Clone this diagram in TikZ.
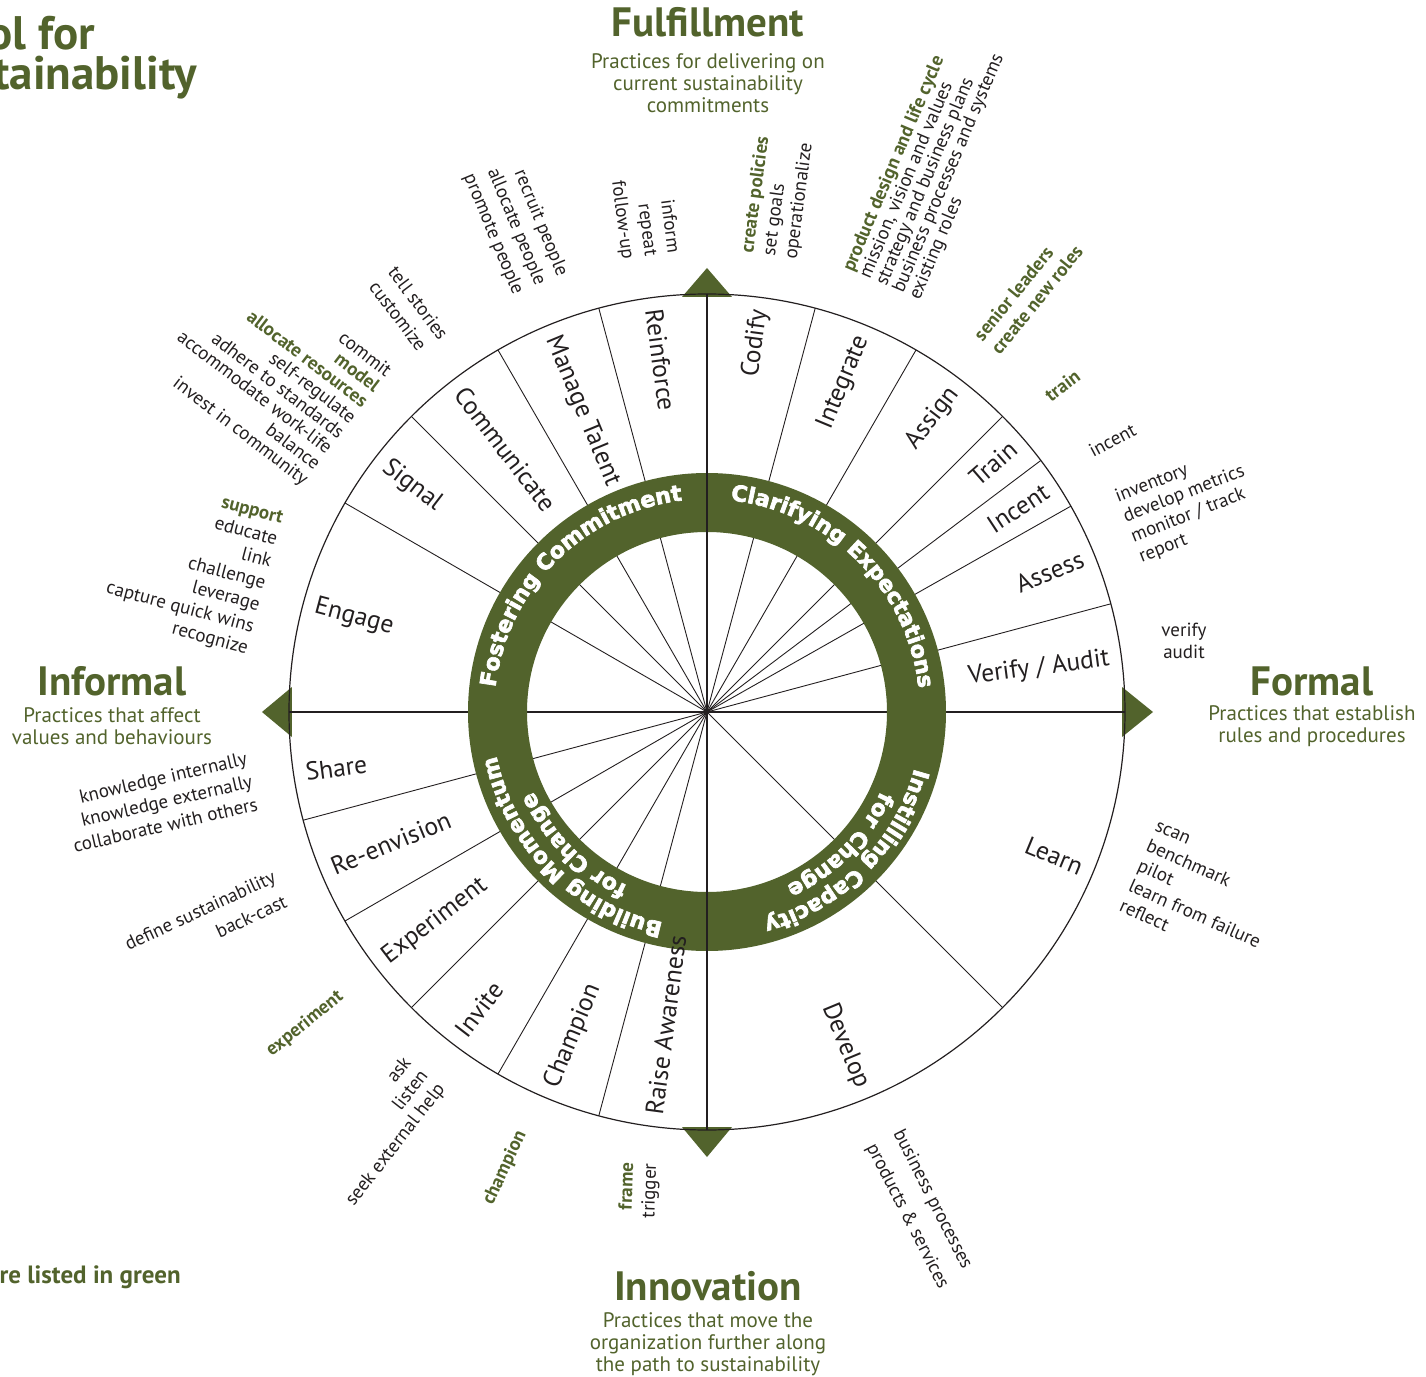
\documentclass[tikz,border=0pt]{standalone}
\usepackage{fontspec}
\setmainfont{PT Sans}
\newfontfamily\wheelfont{DejaVu Sans Bold}[FakeBold=3]
\usetikzlibrary{decorations.text}
\definecolor{leaf}{RGB}{82,99,44}
\definecolor{ink}{RGB}{35,31,32}
\newcommand\ringstyle{\fontsize{22}{26}\wheelfont\color{white}}
\newcommand\greenkey[1]{{\bfseries\color{leaf}#1}}

\begin{document}
\begin{tikzpicture}[x=1pt,y=1pt,
  spoke/.style={draw=ink, line width=0.9pt},
  axis/.style={draw=ink, line width=2.6pt},
  rim/.style={draw=ink, line width=1.2pt},
  pointer/.style={fill=leaf},
  seg/.style={font=\fontsize{25.5}{30}\selectfont, text=ink, inner sep=0pt},
  note/.style={font=\fontsize{19}{#1}\selectfont, text=ink, inner sep=0pt},
  note/.default=22.5,
  key/.style={font=\fontsize{19}{22}\selectfont\bfseries, text=leaf, inner sep=0pt},
  heading/.style={font=\fontsize{41}{43}\selectfont\bfseries, text=leaf, inner sep=0pt},
  blurb/.style={font=\fontsize{21}{22}\selectfont, text=leaf, align=center, inner sep=0pt},
  ringtext/.style={decorate, decoration={text along path, text align=center, text={|\ringstyle|#1}}},
]
\path[use as bounding box] (-707,-664) rectangle (719,712);
\clip (-707,-664) rectangle (719,712);

% compass pointers
\fill[pointer] (0,444) -- (-25,415) -- (25,415) -- cycle;
\fill[pointer] (0,-445) -- (-25,-415) -- (25,-415) -- cycle;
\fill[pointer] (-445,0) -- (-415,25) -- (-415,-25) -- cycle;
\fill[pointer] (446,0) -- (415,25) -- (415,-25) -- cycle;

% spokes between the practices
\foreach \a in {75,60,45,37,29.5,15,105,120,135,150,195,210,225,240,255,315}
  \draw[spoke] (0,0) -- (\a:418);
\draw[axis] (-418,0) -- (418,0);
\draw[rim] (0,0) circle[radius=418];

% the green ring and the vertical axis on top of it
\fill[leaf, even odd rule] (0,0) circle[radius=239] circle[radius=180];
\draw[axis] (0,418) -- (0,-418);

% ring captions
\path[ringtext=Fostering Commitment] (215:213) arc[start angle=215, end angle=55, radius=213];
\path[ringtext=Clarifying Expectations] (125:213) arc[start angle=125, end angle=-35, radius=213];
\path[ringtext=Instilling Capacity] (35:215) arc[start angle=35, end angle=-125, radius=215];
\path[ringtext=for Change] (35:191) arc[start angle=35, end angle=-125, radius=191];
\path[ringtext=Building Momentum] (305:215) arc[start angle=305, end angle=145, radius=215];
\path[ringtext=for Change] (305:191) arc[start angle=305, end angle=145, radius=191];

% practice names, right half
\node[seg, anchor=east, rotate=82.5] (codify) at (82.5:406) {Codify};
\node[seg, anchor=east, rotate=67.5] (integrate) at (67.5:406) {Integrate};
\node[seg, anchor=east, rotate=52.5] (assign) at (52.5:406) {Assign};
\node[seg, anchor=east, rotate=41] (train) at (41:406) {Train};
\node[seg, anchor=east, rotate=33.25] (incent) at (33.25:406) {Incent};
\node[seg, anchor=east, rotate=22.25] (assess) at (22.25:406) {Assess};
\node[seg, anchor=east, rotate=7.5] (verify) at (7.5:406) {Verify / Audit};
\node[seg, anchor=east, rotate=-22.5] (learn) at (-22.5:406) {Learn};
\node[seg, anchor=east, rotate=-67.5] (develop) at (-67.5:406) {Develop};

% practice names, left half
\node[seg, anchor=west, rotate=-82.5] (reinforce) at (97.5:406) {Reinforce};
\node[seg, anchor=west, rotate=-67.5] (talent) at (112.5:406) {Manage Talent};
\node[seg, anchor=west, rotate=-52.5] (communicate) at (127.5:406) {Communicate};
\node[seg, anchor=west, rotate=-37.5] (signal) at (142.5:406) {Signal};
\node[seg, anchor=west, rotate=-15] (engage) at (165:406) {Engage};
\node[seg, anchor=west, rotate=7.5] (share) at (188.5:406) {Share};
\node[seg, anchor=west, rotate=22.5] (reenvision) at (202.5:406) {Re-envision};
\node[seg, anchor=west, rotate=37.5] (experiment) at (217.5:406) {Experiment};
\node[seg, anchor=west, rotate=52.5] (invite) at (232.5:406) {Invite};
\node[seg, anchor=west, rotate=67.5] (champion) at (247.5:406) {Champion};
\node[seg, anchor=west, rotate=82.5] (raise) at (262.5:406) {Raise Awareness};

% activities around the wheel
\node[note=24, align=right, anchor=east, rotate=-67.5] (talentnotes) at (-167,427) {recruit people\\allocate people\\promote people};
\node[note=23, align=right, anchor=east, rotate=-82.5] (reinforcenotes) at (-57,456) {inform\\repeat\\follow-up};
\node[note=22, align=left, anchor=west, rotate=82.5] (codifynotes) at (63,456) {\greenkey{create policies}\\set goals\\operationalize};
\node[note=18, align=left, anchor=west, rotate=67] (integratenotes) at (175,427) {\greenkey{product design and life cycle}\\mission, vision and values\\strategy and business plans\\business processes and systems\\existing roles};
\node[note=22, align=left, anchor=west, rotate=51] (assignnotes) at (279,367) {\greenkey{senior leaders}\\\greenkey{create new roles}};
\node[key, anchor=west, rotate=37] (trainnote) at (340,315) {train};
\node[note, anchor=west, rotate=28] (incentnote) at (383,260) {incent};
\node[note=21.5, align=left, anchor=west, rotate=21.5] (assessnotes) at (421,184) {inventory\\develop metrics\\monitor / track\\report};
\node[note=22, align=center] (verifynotes) at (477,71) {verify\\audit};
\node[note=22, align=left, anchor=west, rotate=-24] (learnnotes) at (431,-154) {scan\\benchmark\\pilot\\learn from failure\\reflect};
\node[note=30, align=left, anchor=west, rotate=-63] (developnotes) at (177,-426) {business processes\\products \& services};
\node[note=23, align=right, anchor=east, rotate=88] (raisenotes) at (-67,-451) {\greenkey{frame}\\trigger};
\node[key, rotate=65] (championnote) at (-202,-456) {champion};
\node[note=21.5, align=right, anchor=east, rotate=52] (invitenotes) at (-282,-361) {ask\\listen\\seek external help};
\node[key, rotate=39] (experimentnote) at (-402,-312) {experiment};
\node[note=27, align=right, anchor=east, rotate=25] (reenvisionnotes) at (-427,-176) {define sustainability\\back-cast};
\node[note=23.5, align=right, anchor=east, rotate=13] (sharenotes) at (-455,-69) {knowledge internally\\knowledge externally\\collaborate with others};
\node[note=22.5, align=right, anchor=east, rotate=-15] (engagenotes) at (-442,127) {\greenkey{support}\\educate\\link\\challenge\\leverage\\capture quick wins\\recognize};
\node[note=19.5, align=right, anchor=east, rotate=-37.5] (signalnotes) at (-360,284) {commit\\\greenkey{model}\\\greenkey{allocate resources}\\self-regulate\\adhere to standards\\accommodate work-life\\balance\\invest in community};
\node[note=24, align=left, anchor=west, rotate=-53] (communicatenotes) at (-324,436) {tell stories\\customize};

% quadrant headings
\node[heading, anchor=base] (fulfilment) at (1,675) {Fulfillment};
\node[blurb] (fulfilmentblurb) at (1,629) {Practices for delivering on\\current sustainability\\commitments};
\node[heading, anchor=base] (informal) at (-595,17) {Informal};
\node[blurb] (informalblurb) at (-595,-14.5) {Practices that affect\\values and behaviours};
\node[heading, anchor=base] (formal) at (605,17) {Formal};
\node[blurb] (formalblurb) at (605,-14.5) {Practices that establish\\rules and procedures};
\node[heading, anchor=base] (innovation) at (1,-588) {Innovation};
\node[blurb] (innovationblurb) at (1,-632) {Practices that move the\\organization further along\\the path to sustainability};

% title and legend fragments at the edges
\node[font=\fontsize{47}{47}\selectfont\bfseries, text=leaf, inner sep=0pt, anchor=base east] (titleone) at (-612,662) {ol for};
\node[font=\fontsize{47}{47}\selectfont\bfseries, text=leaf, inner sep=0pt, anchor=base east] (titletwo) at (-510,622) {tainability};
\node[font=\fontsize{25}{25}\selectfont\bfseries, text=leaf, inner sep=0pt, anchor=base east] (legend) at (-526,-571) {are listed in green};
\end{tikzpicture}
\end{document}
